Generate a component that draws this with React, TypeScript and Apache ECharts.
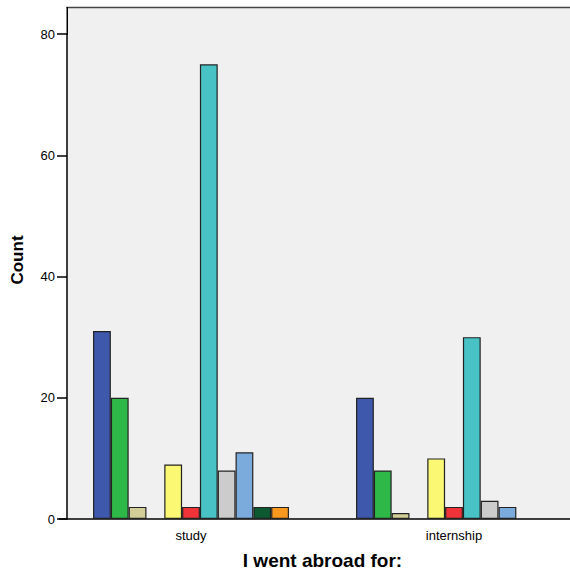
import React, { useEffect, useRef } from "react";
import * as echarts from "echarts";

const categories = ["study", "internship"];
const seriesColors = [
  "#3E58AC", "#2EB848", "#D3CE97", "#6E5AA0", "#FBF873",
  "#EF3338", "#48C2C5", "#CCCCCC", "#7BAADD", "#0D5932", "#F9981F",
];
const seriesNames = ["A", "B", "C", "D", "E", "F", "G", "H", "I", "J", "K"];
const seriesValues: (number | string)[][] = [
  [31, 20],
  [20, 8],
  [2, 1],
  ["-", "-"],
  [9, 10],
  [2, 2],
  [75, 30],
  [8, 3],
  [11, 2],
  [2, "-"],
  [2, "-"],
];
const yTicks = [0, 20, 40, 60, 80];
const yTitle = "Count";
const xTitle = "I went abroad for:";

export default function App() {
  const ref = useRef<HTMLDivElement>(null);
  useEffect(() => {
    if (!ref.current) return;
    const chart = echarts.init(ref.current, null, { renderer: "svg" });
    const font = "'Liberation Sans', Arial, sans-serif";
    chart.setOption({
      animation: false,
      textStyle: { fontFamily: font },
      grid: {
        left: 59.5, top: 34, width: 526, height: 485,
        containLabel: false, outerBoundsMode: "none",
      },
      xAxis: {
        type: "category",
        data: categories,
        axisLine: { lineStyle: { color: "#000", width: 1.5 } },
        axisTick: { alignWithLabel: true, length: 6, lineStyle: { color: "#000" } },
        axisLabel: { color: "#000", fontSize: 13, margin: 10, fontFamily: font },
        name: xTitle,
        nameLocation: "middle",
        nameGap: 32,
        nameTextStyle: { color: "#000", fontSize: 19, fontWeight: "bold", fontFamily: font },
      },
      yAxis: {
        type: "value",
        min: yTicks[0],
        max: yTicks[yTicks.length - 1],
        interval: 20,
        offset: -7.5,
        splitLine: { show: false },
        axisLine: { show: true, lineStyle: { color: "#000", width: 1.5 } },
        axisTick: { show: true, length: 10, lineStyle: { color: "#000", width: 1.5 } },
        axisLabel: { color: "#000", fontSize: 13, margin: 12, fontFamily: font },
      },
      graphic: [
        {
          type: "rect",
          z: -100,
          silent: true,
          shape: { x: 67, y: 7, width: 510, height: 512 },
          style: { fill: "#F0F0F0" },
        },
        {
          type: "line",
          z: 100,
          silent: true,
          shape: { x1: 66.5, y1: 7.5, x2: 575, y2: 7.5 },
          style: { stroke: "#444", lineWidth: 1.5 },
        },
        {
          type: "line",
          z: 100,
          silent: true,
          shape: { x1: 67.25, y1: 7, x2: 67.25, y2: 35 },
          style: { stroke: "#000", lineWidth: 1.5 },
        },
        {
          type: "text",
          x: 17,
          y: 260,
          rotation: Math.PI / 2,
          style: {
            text: yTitle,
            fill: "#000",
            font: `bold 17px ${font}`,
            align: "center",
            verticalAlign: "middle",
          },
        },
      ],
      series: seriesValues.map((vals, i) => ({
        type: "bar",
        name: seriesNames[i],
        data: vals,
        barGap: "0%",
        barCategoryGap: "25.5%",
        itemStyle: { color: seriesColors[i], borderColor: "#222", borderWidth: 1.2 },
      })),
    });
    return () => chart.dispose();
  }, []);
  return <div ref={ref} style={{ width: 570, height: 572, position: "absolute", left: 0, top: 0 }} />;
}
